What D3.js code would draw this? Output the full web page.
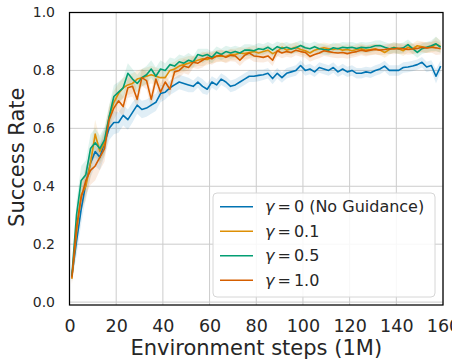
<!DOCTYPE html>
<html><head><meta charset="utf-8">
<script src="https://cdn.jsdelivr.net/npm/d3@7/dist/d3.min.js"></script>
<style>body{margin:0;background:#fff}svg{display:block}</style>
</head><body><svg id="c" width="452" height="364"></svg>
<script>
const steps = [1,3,5,7,9,11,13,15,17,19,21,23,25,27,29,31,33,35,37,39,
  41,43,45,47,49,51,53,55,57,59,61,63,65,67,69,71,73,75,77,79,
  81,83,85,87,89,91,93,95,97,99,101,103,105,107,109,111,113,115,117,119,
  121,123,125,127,129,131,133,135,137,139,141,143,145,147,149,151,153,155,157,159];

const seriesNames = ["γ=0 (No Guidance)", "γ=0.1", "γ=0.5", "γ=1.0"];
const legendValues = ["0 (No Guidance)", "0.1", "0.5", "1.0"];
const colors = ["#0173b2", "#de8f05", "#029e73", "#d55e00"];

const gamma0 = [0.09,0.21,0.32,0.41,0.48,0.52,0.50,0.55,0.60,0.62,
  0.62,0.645,0.63,0.655,0.68,0.665,0.67,0.68,0.69,0.72,
  0.725,0.74,0.75,0.76,0.755,0.75,0.745,0.76,0.745,0.735,
  0.76,0.75,0.77,0.76,0.745,0.75,0.76,0.77,0.78,0.78,
  0.783,0.785,0.79,0.772,0.79,0.775,0.79,0.795,0.80,0.817,
  0.80,0.805,0.795,0.81,0.805,0.80,0.81,0.795,0.805,0.795,
  0.80,0.79,0.79,0.795,0.792,0.80,0.805,0.815,0.80,0.80,
  0.80,0.81,0.812,0.815,0.82,0.828,0.812,0.817,0.78,0.815];
const gamma01 = [0.08,0.24,0.37,0.40,0.48,0.58,0.52,0.55,0.64,0.69,
  0.72,0.74,0.75,0.755,0.77,0.775,0.78,0.785,0.78,0.775,
  0.775,0.80,0.805,0.815,0.82,0.825,0.83,0.835,0.84,0.838,
  0.845,0.848,0.85,0.848,0.855,0.855,0.86,0.858,0.862,0.865,
  0.86,0.865,0.87,0.858,0.865,0.88,0.87,0.875,0.88,0.872,
  0.868,0.86,0.87,0.875,0.878,0.875,0.872,0.876,0.87,0.872,
  0.868,0.872,0.875,0.87,0.872,0.875,0.87,0.862,0.872,0.88,
  0.875,0.868,0.88,0.875,0.885,0.882,0.878,0.88,0.89,0.883];
const gamma05 = [0.09,0.30,0.42,0.44,0.53,0.55,0.53,0.56,0.64,0.71,
  0.725,0.74,0.79,0.77,0.755,0.775,0.785,0.805,0.78,0.805,
  0.80,0.82,0.815,0.83,0.825,0.835,0.83,0.855,0.85,0.855,
  0.845,0.863,0.855,0.865,0.86,0.865,0.86,0.87,0.87,0.868,
  0.875,0.872,0.88,0.87,0.882,0.876,0.88,0.874,0.878,0.886,
  0.878,0.875,0.882,0.875,0.872,0.87,0.878,0.875,0.88,0.878,
  0.88,0.876,0.88,0.878,0.88,0.885,0.886,0.88,0.875,0.878,
  0.875,0.878,0.889,0.875,0.862,0.875,0.88,0.885,0.892,0.88];
const gamma10 = [0.085,0.26,0.36,0.42,0.455,0.47,0.50,0.53,0.63,0.67,
  0.695,0.675,0.74,0.745,0.70,0.775,0.765,0.70,0.77,0.725,
  0.76,0.735,0.795,0.80,0.815,0.81,0.828,0.825,0.835,0.845,
  0.84,0.85,0.852,0.845,0.852,0.85,0.835,0.852,0.86,0.85,
  0.848,0.845,0.85,0.835,0.868,0.86,0.865,0.862,0.87,0.865,
  0.862,0.848,0.855,0.86,0.868,0.865,0.862,0.86,0.862,0.858,
  0.862,0.865,0.87,0.866,0.87,0.872,0.87,0.872,0.875,0.874,
  0.876,0.875,0.872,0.874,0.876,0.88,0.878,0.88,0.878,0.875];
const spread = [0.02,0.05,0.05,0.05,0.05,0.05,0.045,0.045,0.04,0.04,
  0.035,0.035,0.035,0.035,0.03,0.03,0.03,0.03,0.03,0.03,
  0.025,0.025,0.025,0.025,0.025,0.025,0.02,0.02,0.025,0.02,
  0.02,0.02,0.02,0.02,0.02,0.02,0.02,0.02,0.02,0.02,
  0.02,0.018,0.018,0.02,0.018,0.018,0.018,0.018,0.018,0.018,
  0.018,0.018,0.018,0.018,0.018,0.018,0.018,0.018,0.018,0.018,
  0.018,0.018,0.018,0.018,0.018,0.018,0.018,0.018,0.018,0.018,
  0.018,0.018,0.018,0.018,0.018,0.018,0.018,0.018,0.025,0.02];

const xTicks = [0,20,40,60,80,100,120,140,160];
const yTicks = [0.0,0.2,0.4,0.6,0.8,1.0];
const series = [gamma0, gamma01, gamma05, gamma10];

const svg = d3.select("#c");
const pLeft = 69.5, pRight = 443, pTop = 12.5, pBottom = 305;
const x = d3.scaleLinear().domain([0,160]).range([pLeft,pRight]);
const y = d3.scaleLinear().domain([-0.01,1.0]).range([pBottom,pTop]);

// grid
const g = svg.append("g");
g.selectAll(".gx").data(xTicks).join("line")
  .attr("x1",d=>x(d)).attr("x2",d=>x(d)).attr("y1",pTop).attr("y2",pBottom)
  .attr("stroke","#cccccc").attr("stroke-width",1);
g.selectAll(".gy").data(yTicks).join("line")
  .attr("x1",pLeft).attr("x2",pRight).attr("y1",d=>y(d)).attr("y2",d=>y(d))
  .attr("stroke","#cccccc").attr("stroke-width",1);

// bands
const area = d3.area().x((d,i)=>x(steps[i]))
  .y0((d,i)=>y(d - spread[i])).y1((d,i)=>y(d + spread[i]));
series.forEach((s,k)=>{
  svg.append("path").datum(s).attr("d",area).attr("fill",colors[k]).attr("fill-opacity",0.12);
});
const line = d3.line().x((d,i)=>x(steps[i])).y(d=>y(d));
series.forEach((s,k)=>{
  svg.append("path").datum(s).attr("d",line).attr("fill","none")
    .attr("stroke",colors[k]).attr("stroke-width",1.6).attr("stroke-linejoin","round");
});

// frame
svg.append("rect").attr("x",pLeft).attr("y",pTop).attr("width",pRight-pLeft).attr("height",pBottom-pTop)
  .attr("fill","none").attr("stroke","#000").attr("stroke-width",1.25);

// axes
const xAxis = svg.append("g").attr("transform",`translate(0,${pBottom})`)
  .call(d3.axisBottom(x).tickValues(xTicks).tickSize(0).tickPadding(15).tickFormat(d3.format("d")));
xAxis.select(".domain").remove();
xAxis.selectAll("text").attr("font-family","DejaVu Sans").attr("font-size","17.5px").attr("fill","#262626");

const yAxis = svg.append("g").attr("transform",`translate(${pLeft},0)`)
  .call(d3.axisLeft(y).tickValues(yTicks).tickSize(0).tickPadding(14.5).tickFormat(d3.format(".1f")));
yAxis.select(".domain").remove();
yAxis.selectAll("text").attr("font-family","DejaVu Sans").attr("font-size","14px").attr("fill","#262626");

svg.append("text").attr("x",(pLeft+pRight)/2).attr("y",355).attr("text-anchor","middle")
  .attr("font-family","DejaVu Sans").attr("font-size","21px").attr("fill","#262626")
  .text("Environment steps (1M)");
svg.append("text").attr("transform",`translate(24,${(pTop+302)/2}) rotate(-90)`).attr("text-anchor","middle")
  .attr("font-family","DejaVu Sans").attr("font-size","21px").attr("fill","#262626")
  .text("Success Rate");

// legend
const lg = svg.append("g");
lg.append("rect").attr("x",213).attr("y",193).attr("width",222).attr("height",104).attr("rx",4)
  .attr("fill","#fff").attr("fill-opacity",0.85).attr("stroke","#d6d6d6").attr("stroke-width",1);
seriesNames.forEach((n,k)=>{
  const cy = 206.7 + k*24.5;
  lg.append("line").attr("x1",220).attr("x2",253).attr("y1",cy).attr("y2",cy)
    .attr("stroke",colors[k]).attr("stroke-width",1.6);
  const t = lg.append("text").attr("x",265).attr("y",cy+5.5)
    .attr("font-family","DejaVu Sans").attr("font-size","16px").attr("fill","#262626");
  t.append("tspan").attr("font-style","italic").text("γ");
  t.append("tspan").attr("dx",3).text("=");
  t.append("tspan").attr("dx",3).text(legendValues[k].split(" ")[0]);
  if (legendValues[k].includes(" ")) t.append("tspan").text(" " + legendValues[k].split(" ").slice(1).join(" "));
});
</script></body></html>
